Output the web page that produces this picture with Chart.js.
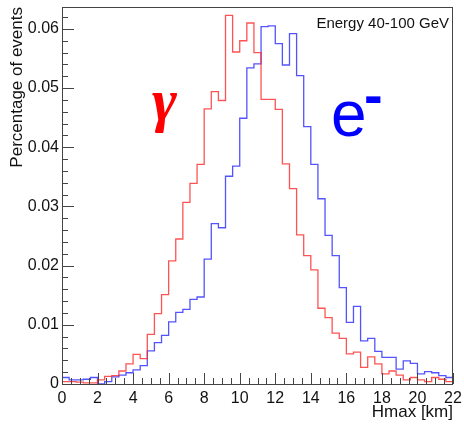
<!DOCTYPE html>
<html>
<head>
<meta charset="utf-8">
<script src="https://cdn.jsdelivr.net/npm/chart.js@4/dist/chart.umd.min.js"></script>
<style>
	html, body { margin: 0; padding: 0; background: #fff; }
	#wrap { width: 464px; height: 424px; }
</style>
</head>
<body>
<div id="wrap"><canvas id="chartjs-canvas" width="464" height="424"></canvas></div>
<script>
// Hmax histogram, 55 bins of 0.4 km from 0 to 22 km
const binStart = 0;
const binWidth = 0.4;

const gammaValues = [
	0.0004, 0.0004, 0.0003, 0.0002, 0.0002, 0.0007, 0.0013, 0.0014, 0.0022, 0.0034,
	0.0050, 0.0043, 0.0084, 0.0119, 0.0151, 0.0208, 0.0245, 0.0307, 0.0339, 0.0371,
	0.0465, 0.0494, 0.0479, 0.0623, 0.0561, 0.0580, 0.0610, 0.0560, 0.0481, 0.0481,
	0.0464, 0.0372, 0.0330, 0.0252, 0.0217, 0.0193, 0.0128, 0.0112, 0.0086, 0.0077,
	0.0051, 0.0054, 0.0028, 0.0046, 0.0034, 0.0017, 0.0022, 0.0015, 0.0007, 0.0011,
	0.0007, 0.0004, 0.0011, 0.0008, 0.0004
];

const electronValues = [
	0.0011, 0.0007, 0.0007, 0.0008, 0.0011, 0.0000, 0.0004, 0.0012, 0.0015, 0.0019,
	0.0024, 0.0031, 0.0056, 0.0070, 0.0082, 0.0105, 0.0121, 0.0126, 0.0143, 0.0147,
	0.0211, 0.0271, 0.0264, 0.0351, 0.0368, 0.0449, 0.0534, 0.0541, 0.0604, 0.0605,
	0.0575, 0.0539, 0.0592, 0.0521, 0.0435, 0.0371, 0.0313, 0.0251, 0.0217, 0.0163,
	0.0104, 0.0131, 0.0073, 0.0077, 0.0055, 0.0045, 0.0045, 0.0025, 0.0039, 0.0035,
	0.0017, 0.0021, 0.0019, 0.0014, 0.0011
];

const xTicks = [0, 2, 4, 6, 8, 10, 12, 14, 16, 18, 20, 22];
const yTicks = [0, 0.01, 0.02, 0.03, 0.04, 0.05, 0.06];
const yMax = 0.0637;

// step points at the low edge of each bin, plus the closing edge
const toSteps = values => {
	const pts = values.map((v, i) => ({ x: binStart + i * binWidth, y: v }));
	pts.push({ x: binStart + values.length * binWidth, y: values[values.length - 1] });
	return pts;
};

const tickFont = { family: '"Liberation Sans", Arial, sans-serif', size: 16 };
const titleFont = { family: '"Liberation Sans", Arial, sans-serif', size: 17 };

const noEdgePadding = scale => {
	scale.paddingTop = 0;
	scale.paddingBottom = 0;
	scale.paddingLeft = 0;
	scale.paddingRight = 0;
};

const frameAndLabels = {
	id: 'frameAndLabels',
	afterDraw: chart => {
		const ctx = chart.ctx;
		const { left, right, top, bottom } = chart.chartArea;
		const xs = chart.scales.x;
		const ys = chart.scales.y;
		ctx.save();
		ctx.strokeStyle = '#444';
		ctx.lineWidth = 1;
		ctx.strokeRect(left + 0.5, top + 0.5, right - left - 1, bottom - top);
		ctx.beginPath();
		// x ticks: major every 2 km, minor every 0.5 km
		for (let i = 0; i <= 44; i++) {
			const px = Math.round(xs.getPixelForValue(i * 0.5)) + 0.5;
			const len = i % 4 === 0 ? 11 : 6;
			ctx.moveTo(px, bottom);
			ctx.lineTo(px, bottom - len);
		}
		// y ticks: major every 0.01, minor every 0.002
		for (let i = 0; i * 0.002 <= yMax; i++) {
			const py = Math.round(ys.getPixelForValue(i * 0.002)) + 0.5;
			const len = i % 5 === 0 ? 12 : 6;
			ctx.moveTo(left, py);
			ctx.lineTo(left + len, py);
		}
		ctx.stroke();

		ctx.fillStyle = '#111';
		ctx.font = '15px "Liberation Sans", Arial, sans-serif';
		ctx.textAlign = 'right';
		ctx.textBaseline = 'alphabetic';
		ctx.fillText('Energy 40-100 GeV', 449, 28);

		ctx.fillStyle = '#ff0000';
		ctx.textAlign = 'left';
		ctx.font = 'bold italic 60px "Liberation Serif", "DejaVu Serif", serif';
		ctx.fillText('γ', 152, 120);

		ctx.fillStyle = '#0000ff';
		ctx.font = '64px "Liberation Sans", Arial, sans-serif';
		ctx.fillText('e', 331, 136);
		ctx.font = 'bold 56px "Liberation Sans", Arial, sans-serif';
		ctx.fillText('-', 364, 114);
		ctx.restore();
	}
};

const config = {
	type: 'line',
	data: {
		datasets: [
			{
				label: 'gamma',
				data: toSteps(gammaValues),
				borderColor: 'rgba(255, 40, 40, 0.8)',
				borderWidth: 1.3,
				stepped: 'before',
				pointRadius: 0,
				fill: false
			},
			{
				label: 'electron',
				data: toSteps(electronValues),
				borderColor: 'rgba(40, 40, 255, 0.8)',
				borderWidth: 1.3,
				stepped: 'before',
				pointRadius: 0,
				fill: false
			}
		]
	},
	options: {
		responsive: false,
		animation: false,
		layout: { padding: { top: 7, right: 11, left: 0, bottom: 0 } },
		plugins: {
			legend: { display: false },
			tooltip: { enabled: false }
		},
		scales: {
			x: {
				type: 'linear',
				min: 0,
				max: 22,
				afterFit: scale => { scale.height = 40; noEdgePadding(scale); },
				afterBuildTicks: scale => { scale.ticks = xTicks.map(v => ({ value: v })); },
				grid: { display: false, drawTicks: false },
				border: { display: false },
				ticks: {
					color: '#111',
					font: tickFont,
					padding: 5,
					maxRotation: 0,
					autoSkip: false,
					callback: v => String(v)
				},
				title: {
					display: true,
					text: 'Hmax [km]',
					align: 'end',
					color: '#111',
					font: titleFont,
					padding: { top: 0, bottom: 1 }
				}
			},
			y: {
				type: 'linear',
				min: 0,
				max: yMax,
				afterFit: scale => { scale.width = 62; noEdgePadding(scale); },
				afterBuildTicks: scale => { scale.ticks = yTicks.map(v => ({ value: v })); },
				grid: { display: false, drawTicks: false },
				border: { display: false },
				ticks: {
					color: '#111',
					font: tickFont,
					padding: 3,
					autoSkip: false,
					callback: v => v === 0 ? '0' : v.toFixed(2)
				},
				title: {
					display: true,
					text: 'Percentage of events',
					align: 'end',
					color: '#111',
					font: titleFont,
					padding: { top: 7, bottom: 0 }
				}
			}
		}
	},
	plugins: [frameAndLabels]
};

new Chart(document.getElementById('chartjs-canvas'), config);
</script>
</body>
</html>
